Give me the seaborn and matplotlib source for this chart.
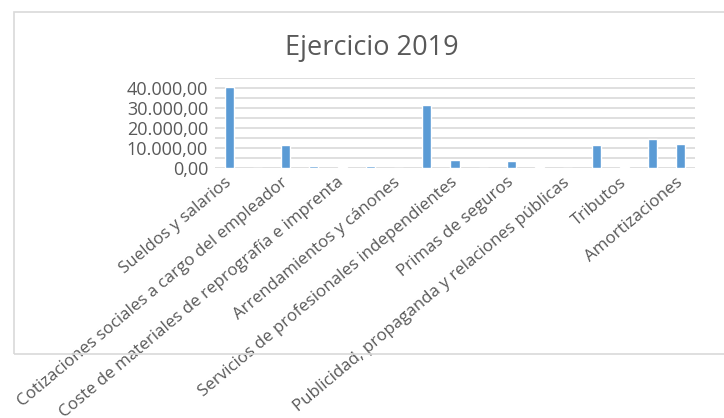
import matplotlib
matplotlib.use("Agg")
import matplotlib.pyplot as plt
import seaborn as sns
import pandas as pd
from matplotlib.patches import Rectangle
from matplotlib.ticker import MultipleLocator, FuncFormatter

categories = [
    "Sueldos y salarios",
    "Indemnizaciones",
    "Cotizaciones sociales a cargo del empleador",
    "Otros gastos sociales",
    "Coste de materiales de reprografía e imprenta",
    "Material de oficina",
    "Arrendamientos y cánones",
    "Reparaciones y conservación",
    "Servicios de profesionales independientes",
    "Transportes",
    "Primas de seguros",
    "Servicios bancarios y similares",
    "Publicidad, propaganda y relaciones públicas",
    "Suministros",
    "Tributos",
    "Otros servicios",
    "Amortizaciones",
]
values = [40700, 0, 11400, 1100, 600, 1100, 0, 31600, 3800, 0, 3300, 700, 0, 11400, 300, 14400, 12200]
title = "Ejercicio 2019"

sns.set_theme(style="white")
plt.rcParams["font.family"] = ["Open Sans", "DejaVu Sans"]

W, H = 724, 418
fig = plt.figure(figsize=(W / 100, H / 100), dpi=100)
ax = fig.add_axes([215 / W, 1 - 168 / H, (695 - 215) / W, (168 - 78) / H])

df = pd.DataFrame({"cat": categories, "val": values})
sns.barplot(data=df, x="cat", y="val", color="#5B9BD5", width=0.32, ax=ax,
            saturation=1, zorder=3, errorbar=None)

ax.set_xlim(-0.5, len(categories) - 0.5)
ax.set_ylim(0, 45000)
ax.yaxis.set_major_locator(MultipleLocator(5000))

def fmt(v, pos):
    if int(round(v)) % 10000 != 0 or v > 40000:
        return ""
    s = f"{int(round(v)):,}".replace(",", ".")
    return s + ",00"

ax.yaxis.set_major_formatter(FuncFormatter(fmt))
ax.grid(axis="y", color="#D9D9D9", linewidth=1.2, zorder=0)
ax.grid(axis="x", visible=False)
for s in ax.spines.values():
    s.set_visible(False)
ax.set_xlabel("")
ax.set_ylabel("")
ax.tick_params(axis="both", length=0, colors="#595959")
ax.tick_params(axis="y", labelsize=13, pad=5)
ax.set_xticks(range(len(categories)))
ax.set_xticklabels([c if i % 2 == 0 else "" for i, c in enumerate(categories)],
                   rotation=40, ha="right", va="center", rotation_mode="anchor",
                   fontsize=12.2, color="#595959")
ax.tick_params(axis="x", pad=9)

fig.patches.append(Rectangle((14 / W, 1 - 354 / H), (W + 10 - 14) / W, (354 - 12) / H,
                             transform=fig.transFigure, fill=False,
                             edgecolor="#D9D9D9", linewidth=1.2, zorder=0))
fig.text(372 / W, 1 - 55 / H, title, ha="center", va="baseline", fontsize=19.5,
         color="#595959")

fig.savefig("out.png", dpi=100)
